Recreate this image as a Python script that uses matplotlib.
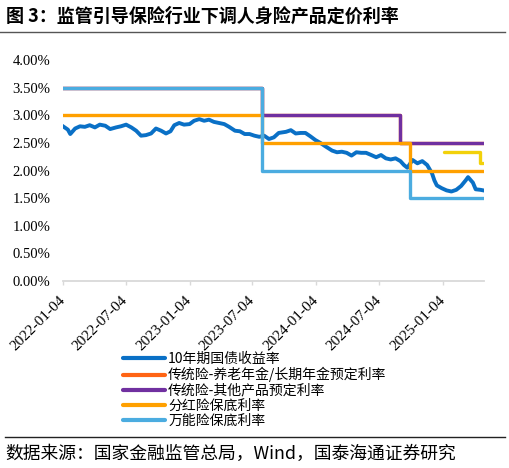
import matplotlib
matplotlib.use("Agg")
import matplotlib.pyplot as plt
from matplotlib.lines import Line2D
import pandas as pd

# ---------------- data ----------------
bond_dates = [
    "2022-01-04", "2022-01-18", "2022-01-25", "2022-02-08", "2022-02-22", "2022-03-08",
    "2022-03-22", "2022-04-06", "2022-04-20", "2022-05-06", "2022-05-20", "2022-06-06",
    "2022-06-20", "2022-07-05", "2022-07-20", "2022-08-03", "2022-08-17", "2022-08-31",
    "2022-09-15", "2022-09-29", "2022-10-14", "2022-10-28", "2022-11-10", "2022-11-21",
    "2022-12-05", "2022-12-19", "2023-01-04", "2023-01-17", "2023-02-01", "2023-02-15",
    "2023-03-01", "2023-03-15", "2023-03-30", "2023-04-14", "2023-04-28", "2023-05-15",
    "2023-05-29", "2023-06-12", "2023-06-26", "2023-07-10", "2023-07-24", "2023-08-07",
    "2023-08-21", "2023-09-04", "2023-09-18", "2023-10-09", "2023-10-23", "2023-11-06",
    "2023-11-20", "2023-12-04", "2023-12-18", "2024-01-02", "2024-01-16", "2024-01-30",
    "2024-02-19", "2024-03-04", "2024-03-18", "2024-04-01", "2024-04-15", "2024-04-29",
    "2024-05-13", "2024-05-27", "2024-06-11", "2024-06-25", "2024-07-09", "2024-07-23",
    "2024-08-06", "2024-08-20", "2024-09-03", "2024-09-13", "2024-09-23", "2024-10-08",
    "2024-10-22", "2024-11-05", "2024-11-19", "2024-12-03", "2024-12-10", "2024-12-17",
    "2024-12-31", "2025-01-14", "2025-01-28", "2025-02-11", "2025-02-25", "2025-03-10",
    "2025-03-17", "2025-03-31", "2025-04-08", "2025-04-22", "2025-04-30",
]
bond_yield = [
    2.80, 2.74, 2.66, 2.76, 2.80, 2.79,
    2.82, 2.78, 2.83, 2.81, 2.75, 2.78,
    2.80, 2.83, 2.78, 2.72, 2.63, 2.64,
    2.67, 2.76, 2.72, 2.67, 2.71, 2.82,
    2.86, 2.83, 2.84, 2.90, 2.93, 2.90,
    2.92, 2.88, 2.86, 2.84, 2.79, 2.72,
    2.71, 2.66, 2.66, 2.63, 2.61, 2.63,
    2.57, 2.60, 2.68, 2.70, 2.73, 2.67,
    2.68, 2.68, 2.62, 2.55, 2.50, 2.44,
    2.36, 2.33, 2.34, 2.32, 2.27, 2.33,
    2.32, 2.32, 2.28, 2.24, 2.28, 2.22,
    2.20, 2.22, 2.17, 2.10, 2.05, 2.19,
    2.13, 2.17, 2.10, 1.95, 1.82, 1.73,
    1.68, 1.64, 1.62, 1.65, 1.72, 1.82,
    1.88, 1.78, 1.66, 1.65, 1.64,
]

step_dates = ["2022-01-04", "2023-08-01", "2024-10-01", "2025-04-30"]
universal_rate = [3.5, 2.0, 1.5, 1.5]      # 万能险保底利率
dividend_rate = [3.0, 2.5, 2.0, 2.0]       # 分红险保底利率

trad_dates = ["2022-01-04", "2023-08-01", "2024-09-01", "2025-04-30"]
trad_other_rate = [3.5, 3.0, 2.5, 2.5]     # 传统险-其他产品预定利率
pension_rate = [3.5, 3.0, 2.5, 2.5]        # 传统险-养老年金/长期年金预定利率

research_dates = ["2025-01-07", "2025-04-21", "2025-04-30"]
research_rate = [2.34, 2.13, 2.13]         # 预定利率研究值

xtick_dates = ["2022-01-04", "2022-07-04", "2023-01-04", "2023-07-04",
               "2024-01-04", "2024-07-04", "2025-01-04"]
yticks = [0, 0.5, 1.0, 1.5, 2.0, 2.5, 3.0, 3.5, 4.0]

legend_labels = ["10年期国债收益率", "传统险-养老年金/长期年金预定利率",
                 "传统险-其他产品预定利率", "分红险保底利率", "万能险保底利率"]
title = "图 3：监管引导保险行业下调人身险产品定价利率"
source = "数据来源：国家金融监管总局，Wind，国泰海通证券研究"

# ---------------- style ----------------
c_bond = "#0A70C6"
c_pension = "#FF6414"
c_trad = "#7030A0"
c_div = "#FFA000"
c_univ = "#4BACE0"
c_res = "#F2D10A"

plt.rcParams["font.family"] = ["Liberation Serif", "DejaVu Serif"]
cjk = ["Noto Sans CJK SC", "DejaVu Sans"]

W, H = 510, 468
fig = plt.figure(figsize=(W / 100, H / 100), dpi=100)
fig.patch.set_facecolor("white")
ax = fig.add_axes([63 / W, 1 - 281 / H, (484 - 63) / W, 221 / H])

td = lambda L: pd.to_datetime(L)

ax.plot(td(trad_dates), pension_rate, color=c_pension, lw=2.4, drawstyle="steps-post",
        solid_joinstyle="round", zorder=2)
ax.plot(td(trad_dates), trad_other_rate, color=c_trad, lw=2.4, drawstyle="steps-post",
        solid_joinstyle="round", zorder=3)
ax.plot(td(research_dates), research_rate, color=c_res, lw=2.4, drawstyle="steps-post",
        solid_joinstyle="round", solid_capstyle="round", zorder=3)
ax.plot(td(bond_dates), bond_yield, color=c_bond, lw=2.8, solid_joinstyle="round", zorder=4)
ax.plot(td(step_dates), dividend_rate, color=c_div, lw=2.4, drawstyle="steps-post",
        solid_joinstyle="round", zorder=5)
ax.plot(td(step_dates), universal_rate, color=c_univ, lw=2.4, drawstyle="steps-post",
        solid_joinstyle="round", zorder=6)

ax.set_xlim(pd.Timestamp("2022-01-04"), pd.Timestamp("2025-05-02"))
ax.set_ylim(0, 4.0)
ax.set_yticks(yticks)
ax.set_yticklabels([f"{v:.2f}%" for v in yticks], fontsize=10.5)
ax.set_xticks(td(xtick_dates))
ax.set_xticklabels(xtick_dates, fontsize=11, rotation=45,
                   ha="right", va="center", rotation_mode="anchor")

for s in ["top", "right", "left"]:
    ax.spines[s].set_visible(False)
ax.spines["bottom"].set_color("#D9D9D9")
ax.spines["bottom"].set_linewidth(1.3)
ax.tick_params(axis="y", length=0, pad=9, colors="black")
ax.tick_params(axis="x", length=3, width=1, color="#D9D9D9", pad=9, labelcolor="black")

# legend
handles = [Line2D([], [], color=c, lw=3.0, solid_capstyle="round")
           for c in [c_bond, c_pension, c_trad, c_div, c_univ]]
fig.legend(handles, legend_labels, loc="upper left", bbox_to_anchor=(123 / W, 1 - 352 / H),
           frameon=False, borderpad=0, borderaxespad=0, handlelength=3.0,
           handletextpad=0.25, labelspacing=0.08, prop={"family": cjk, "size": 10})

# title, rules, source
fig.text(6 / W, 1 - 16 / H, title, fontfamily=cjk, fontsize=13, fontweight="bold",
         ha="left", va="center")
fig.add_artist(Line2D([0 / W, 505 / W], [1 - 32 / H, 1 - 32 / H], color="#555555", lw=1.0))
fig.add_artist(Line2D([5 / W, 505 / W], [1 - 437 / H, 1 - 437 / H], color="#222222", lw=1.0))
fig.text(5 / W, 1 - 454 / H, source, fontfamily=cjk, fontsize=12.8, ha="left", va="center")

fig.savefig("out.png", dpi=100, facecolor="white")
